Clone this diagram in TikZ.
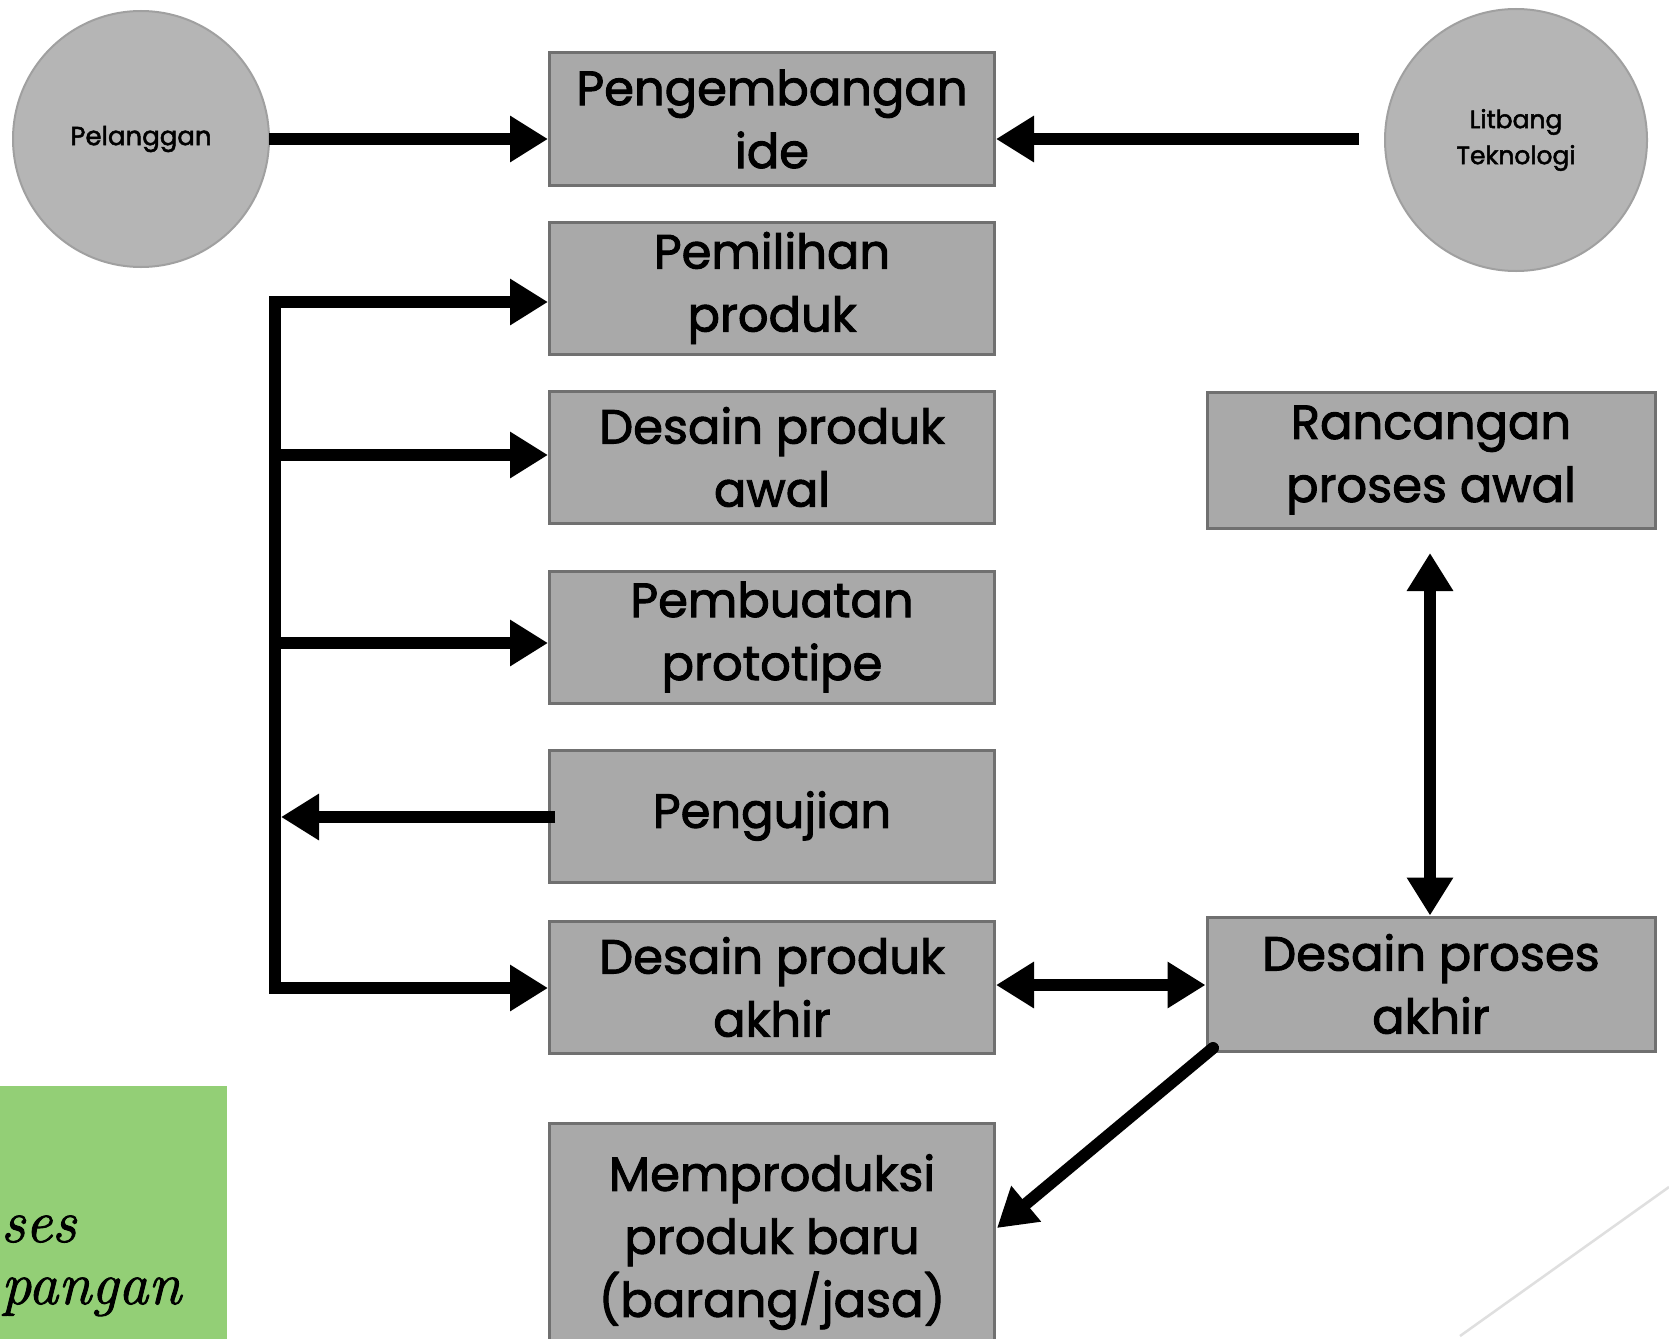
\documentclass[tikz,border=0pt]{standalone}
\usepackage{fontspec}
\setmainfont{Poppins}
\newfontfamily\boxfont{Poppins}[FakeBold=2]
\newfontfamily\notefont{Latin Modern Roman}[FakeBold=1.5]
\usetikzlibrary{arrows.meta,calc}
\definecolor{boxfill}{RGB}{169,169,169}
\definecolor{boxdraw}{RGB}{112,112,112}
\definecolor{circfill}{RGB}{181,181,181}
\definecolor{circdraw}{RGB}{160,160,160}
\definecolor{notegreen}{RGB}{147,207,118}
\tikzset{
  stepbox/.style={draw=boxdraw, fill=boxfill, line width=3pt, minimum width=445pt, minimum height=132pt, inner sep=0pt, align=center, font=\boxfont\fontsize{48}{63}\selectfont},
  actor/.style={circle, draw=circdraw, fill=circfill, line width=2pt, minimum size=256pt, inner sep=0pt, align=center},
  conn/.style={line width=12pt, line join=miter},
  arr/.style={conn, -{Triangle[length=38pt,width=44pt]}},
  darr/.style={conn, {Triangle[length=38pt,width=44pt]}-{Triangle[length=38pt,width=44pt]}},
  notetext/.style={anchor=base west, inner sep=0pt, font=\notefont\itshape\fontsize{60}{64}\selectfont},
}
\begin{document}
\begin{tikzpicture}[x=1pt,y=-1pt]
\useasboundingbox (0,0) rectangle (1669,1338);
\fill[white] (0,0) rectangle (1669,1338);

% note box (cut off at the left and bottom edge)
\fill[notegreen] (0,1086) rectangle (227,1345);
\node[notetext] (n1) at (1,1242) {ses};
\node[notetext] (n2) at (1,1304) {pangan};

% faint line bottom right
\draw[gray!25, line width=2.5pt] (1460,1336) -- (1669,1187);

% actors
\node[actor, font=\boxfont\fontsize{26}{34}\selectfont] (pel) at (141,139) {Pelanggan};
\node[actor, minimum size=262pt, font=\boxfont\fontsize{25}{36}\selectfont] (lit) at (1516,140) {Litbang\\Teknologi};

% steps
\node[stepbox] (ide) at (772,119) {Pengembangan\\ide};
\node[stepbox] (pem) at (772,288) {Pemilihan\\produk};
\node[stepbox] (awal) at (772,457) {Desain produk\\awal};
\node[stepbox] (proto) at (772,637) {Pembuatan\\prototipe};
\node[stepbox] (uji) at (772,816) {Pengujian};
\node[stepbox] (akhir) at (772,987) {Desain produk\\akhir};
\node[stepbox, anchor=north, minimum height=224pt, text depth=0pt] (mem) at (772,1122) {Memproduksi\\produk baru\\(barang/jasa)};
\node[stepbox, minimum width=448pt, minimum height=136pt] (ranc) at (1431,460) {Rancangan\\proses awal};
\node[stepbox, minimum width=448pt, minimum height=134pt] (dpa) at (1431,984) {Desain proses\\akhir};

% bus coordinates
\coordinate (bTop) at (275,302);
\coordinate (bAwal) at (275,455);
\coordinate (bProto) at (275,643);
\coordinate (bUji) at (281,817);
\coordinate (bBot) at (275,988);
\coordinate (pelA) at (269,139);
\coordinate (litA) at (1359,139);
\coordinate (rancA) at (1430,553);
\coordinate (dpaA) at (1213,1048);
\coordinate (memA) at (997,1228);

% connectors
\draw[arr] (pelA) -- (ide.west |- pelA);
\draw[arr] (litA) -- (ide.east |- litA);
\draw[darr] (pem.west |- bTop) -- (bTop) -- (bBot) -- (akhir.west |- bBot);
\draw[arr] (bAwal) -- (awal.west |- bAwal);
\draw[arr] (bProto) -- (proto.west |- bProto);
\draw[arr] ([xshift=7pt]uji.west |- bUji) -- (bUji);
\draw[darr] (akhir.east |- 0,985) -- (dpa.west |- 0,985);
\draw[darr] (rancA) -- (dpa.north -| rancA);
\draw[arr, line cap=round] (dpaA) -- (memA);
\end{tikzpicture}
\end{document}
